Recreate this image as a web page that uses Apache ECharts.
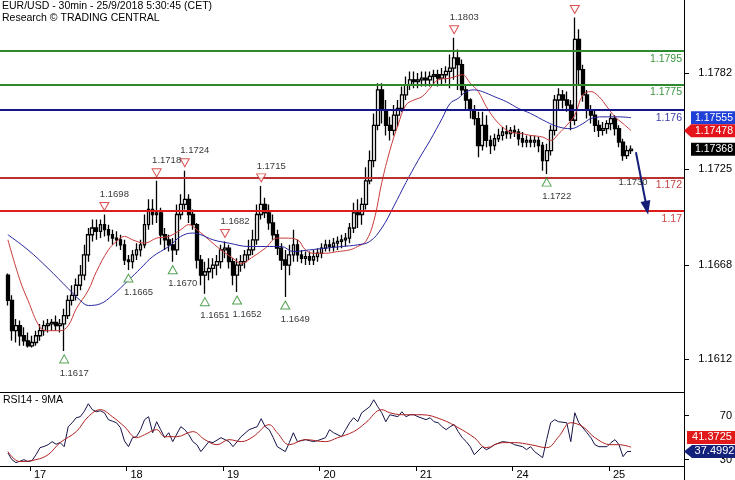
<!DOCTYPE html>
<html><head><meta charset="utf-8">
<script src="https://cdn.jsdelivr.net/npm/echarts@6/dist/echarts.min.js"></script>
<style>html,body{margin:0;padding:0;background:#fff}#c{width:735px;height:480px}</style>
</head><body><div id="c"></div>
<script>
// ---------- DATA ----------
const dayLabels = ['17','18','19','20','21','24','25'];
const dayStartBar = [6,30,54,78,102,126,150];
// hourly bars [open, close, low, high]
const bars = [
[1.1662,1.1647,1.1644,1.1663],[1.1647,1.1629,1.1623,1.1650],[1.1629,1.1632,1.1622,1.1636],[1.1632,1.1626,1.1620,1.1635],[1.1626,1.1623,1.1620,1.1631],
[1.1623,1.1620,1.1619,1.1628],[1.1620,1.1622,1.1619,1.1626],[1.1622,1.1626,1.1620,1.1629],[1.1626,1.1629,1.1623,1.1633],[1.1629,1.1632,1.1626,1.1635],
[1.1632,1.1633,1.1628,1.1636],[1.1633,1.1634,1.1629,1.1636],[1.1634,1.1632,1.1629,1.1638],[1.1632,1.1633,1.1628,1.1636],[1.1633,1.1638,1.1617,1.1642],
[1.1638,1.1647,1.1636,1.1650],[1.1647,1.1650,1.1644,1.1656],[1.1650,1.1656,1.1647,1.1660],[1.1656,1.1662,1.1653,1.1668],[1.1662,1.1674,1.1659,1.1680],
[1.1674,1.1686,1.1670,1.1690],[1.1686,1.1690,1.1682,1.1695],[1.1690,1.1688,1.1683,1.1695],[1.1688,1.1692,1.1684,1.1695],[1.1692,1.1689,1.1685,1.1698],
[1.1689,1.1686,1.1682,1.1692],[1.1686,1.1684,1.1680,1.1689],[1.1684,1.1683,1.1679,1.1688],[1.1683,1.1680,1.1677,1.1686],[1.1680,1.1671,1.1668,1.1683],
[1.1671,1.1670,1.1665,1.1674],[1.1670,1.1674,1.1666,1.1677],[1.1674,1.1677,1.1671,1.1681],[1.1677,1.1680,1.1673,1.1683],[1.1680,1.1692,1.1678,1.1698],
[1.1692,1.1701,1.1689,1.1707],[1.1701,1.1698,1.1692,1.1707],[1.1698,1.1699,1.1693,1.1718],[1.1699,1.1686,1.1680,1.1702],[1.1686,1.1683,1.1677,1.1690],
[1.1683,1.1680,1.1676,1.1686],[1.1680,1.1677,1.1670,1.1684],[1.1677,1.1698,1.1674,1.1704],[1.1698,1.1704,1.1695,1.1710],[1.1704,1.1707,1.1701,1.1724],
[1.1707,1.1698,1.1693,1.1710],[1.1698,1.1692,1.1689,1.1701],[1.1692,1.1671,1.1666,1.1693],[1.1671,1.1662,1.1656,1.1674],[1.1662,1.1664,1.1651,1.1670],
[1.1664,1.1666,1.1659,1.1672],[1.1666,1.1668,1.1660,1.1672],[1.1668,1.1670,1.1662,1.1674],[1.1670,1.1677,1.1666,1.1680],[1.1677,1.1678,1.1672,1.1682],
[1.1678,1.1670,1.1666,1.1680],[1.1670,1.1662,1.1656,1.1672],[1.1662,1.1668,1.1652,1.1672],[1.1668,1.1670,1.1664,1.1674],[1.1670,1.1674,1.1666,1.1677],
[1.1674,1.1677,1.1671,1.1683],[1.1677,1.1683,1.1674,1.1689],[1.1683,1.1698,1.1680,1.1704],[1.1698,1.1704,1.1695,1.1715],[1.1704,1.1699,1.1696,1.1708],
[1.1699,1.1693,1.1689,1.1704],[1.1693,1.1686,1.1683,1.1698],[1.1686,1.1678,1.1674,1.1689],[1.1678,1.1671,1.1665,1.1681],[1.1671,1.1668,1.1649,1.1677],
[1.1668,1.1674,1.1662,1.1680],[1.1674,1.1680,1.1670,1.1689],[1.1680,1.1674,1.1670,1.1683],[1.1674,1.1672,1.1669,1.1677],[1.1672,1.1673,1.1668,1.1676],
[1.1673,1.1671,1.1668,1.1676],[1.1671,1.1673,1.1668,1.1677],[1.1673,1.1675,1.1670,1.1678],[1.1675,1.1678,1.1672,1.1681],[1.1678,1.1680,1.1676,1.1683],
[1.1680,1.1679,1.1676,1.1683],[1.1679,1.1681,1.1676,1.1684],[1.1681,1.1682,1.1677,1.1685],[1.1682,1.1683,1.1678,1.1686],[1.1683,1.1684,1.1679,1.1687],
[1.1684,1.1690,1.1681,1.1693],[1.1690,1.1699,1.1687,1.1705],[1.1699,1.1698,1.1690,1.1707],[1.1698,1.1704,1.1692,1.1708],[1.1704,1.1718,1.1701,1.1726],
[1.1718,1.1730,1.1716,1.1736],[1.1730,1.1751,1.1726,1.1758],[1.1751,1.1772,1.1748,1.1776],[1.1772,1.1760,1.1752,1.1776],[1.1760,1.1751,1.1745,1.1766],
[1.1751,1.1748,1.1742,1.1756],[1.1748,1.1757,1.1745,1.1763],[1.1757,1.1761,1.1750,1.1766],[1.1761,1.1769,1.1759,1.1774],[1.1769,1.1775,1.1766,1.1780],
[1.1775,1.1778,1.1772,1.1783],[1.1778,1.1777,1.1773,1.1783],[1.1777,1.1778,1.1773,1.1782],[1.1778,1.1779,1.1774,1.1783],[1.1779,1.1778,1.1774,1.1783],
[1.1778,1.1780,1.1774,1.1783],[1.1780,1.1781,1.1775,1.1784],[1.1781,1.1779,1.1774,1.1784],[1.1779,1.1781,1.1775,1.1785],[1.1781,1.1783,1.1776,1.1786],
[1.1783,1.1785,1.1773,1.1793],[1.1785,1.1791,1.1778,1.1803],[1.1791,1.1787,1.1772,1.1796],[1.1787,1.1772,1.1769,1.1790],[1.1772,1.1766,1.1760,1.1775],
[1.1766,1.1760,1.1755,1.1767],[1.1760,1.1755,1.1751,1.1763],[1.1755,1.1739,1.1732,1.1759],[1.1739,1.1751,1.1736,1.1759],[1.1751,1.1742,1.1738,1.1757],
[1.1742,1.1739,1.1734,1.1745],[1.1739,1.1743,1.1736,1.1746],[1.1743,1.1745,1.1741,1.1749],[1.1745,1.1747,1.1742,1.1750],[1.1747,1.1746,1.1743,1.1751],
[1.1746,1.1748,1.1743,1.1750],[1.1748,1.1747,1.1744,1.1751],[1.1747,1.1743,1.1739,1.1749],[1.1743,1.1741,1.1738,1.1747],[1.1741,1.1742,1.1738,1.1745],
[1.1742,1.1741,1.1738,1.1745],[1.1741,1.1742,1.1738,1.1745],[1.1742,1.1739,1.1735,1.1744],[1.1739,1.1730,1.1724,1.1741],[1.1730,1.1736,1.1722,1.1740],
[1.1736,1.1748,1.1733,1.1751],[1.1748,1.1766,1.1745,1.1769],[1.1766,1.1769,1.1760,1.1773],[1.1769,1.1766,1.1761,1.1772],[1.1766,1.1763,1.1759,1.1771],
[1.1763,1.1754,1.1748,1.1766],[1.1754,1.1802,1.1751,1.1815],[1.1802,1.1784,1.1775,1.1808],[1.1784,1.1769,1.1765,1.1787],[1.1769,1.1760,1.1755,1.1772],
[1.1760,1.1757,1.1752,1.1763],[1.1757,1.1751,1.1747,1.1760],[1.1751,1.1748,1.1744,1.1754],[1.1748,1.1749,1.1745,1.1753],[1.1749,1.1752,1.1746,1.1754],
[1.1752,1.1755,1.1748,1.1758],[1.1755,1.1749,1.1745,1.1757],[1.1749,1.1741,1.1738,1.1751],[1.1741,1.1733,1.1730,1.1743],[1.1733,1.1736,1.1731,1.1739],
[1.1736,1.17368,1.1734,1.1739]
];
// moving averages: [bar, value]
const maFast = [[0,1.1683],[3,1.1659],[5,1.1647],[8,1.1631],[10,1.1629],[13,1.1629],[15,1.1632],[17,1.1642],[20,1.1653],[22,1.1664],
[25,1.1677],[27,1.1682],[29,1.1685],[31,1.1683],[34,1.1681],[37,1.1684],[40,1.1685],[43,1.1689],[45,1.1692],[47,1.1689],
[50,1.1683],[53,1.1677],[56,1.1672],[58,1.1669],[61,1.1673],[64,1.1678],[67,1.1684],[69,1.1684],[72,1.1683],[74,1.1677],
[76,1.1675],[79,1.1675],[82,1.1676],[85,1.1677],[87,1.1679],[89,1.1682],[91,1.1694],[93,1.1717],[95,1.1736],[97,1.1751],
[99,1.1763],[101,1.1766],[103,1.1768],[105,1.1773],[107,1.1778],[110,1.1779],[113,1.1781],[115,1.1776],[117,1.1771],[119,1.1762],
[121,1.1755],[123,1.1750],[125,1.1747],[128,1.1746],[130,1.1745],[133,1.1744],[135,1.1742],[137,1.1746],[139,1.1751],[141,1.1757],
[143,1.1769],[145,1.1771],[147,1.1768],[149,1.1762],[151,1.1756],[153,1.1752],[155,1.17478]];
const maSlow = [[0,1.1686],[5,1.1677],[10,1.1666],[15,1.1654],[18,1.1647],[20,1.1644],[23,1.1645],[26,1.1650],[30,1.1659],[33,1.1666],
[36,1.1673],[40,1.1679],[43,1.1685],[46,1.1687],[48,1.1686],[51,1.1683],[55,1.1681],[60,1.1679],[64,1.1679],[68,1.1679],
[71,1.1676],[75,1.1677],[79,1.1678],[83,1.1679],[87,1.1680],[90,1.1682],[93,1.1690],[96,1.1703],[99,1.1717],[102,1.1730],
[105,1.1742],[108,1.1755],[110,1.1764],[112,1.1767],[114,1.1771],[116,1.1772],[118,1.1771],[121,1.1768],[124,1.1765],[127,1.1761],
[130,1.1758],[134,1.1753],[137,1.1750],[140,1.1749],[143,1.1752],[145,1.1755],[148,1.1756],[152,1.1756],[155,1.17555]];
const swingHighs = [[24,1.1698],[37,1.1718],[44,1.1724],[54,1.1682],[63,1.1715],[111,1.1803],[141,1.1815]];
const swingLows = [[14,1.1617],[30,1.1665],[41,1.1670],[49,1.1651],[57,1.1652],[69,1.1649],[134,1.1722]];
const pendingLow = [[153,1.1730]];
const levels = [1.1795,1.1775,1.176,1.172,1.17];
const projection = [[156.2,1.1735],[158.9,1.1702]];
const priceTicks = [1.1612,1.1668,1.1725,1.1782];
const rsiTicks = [30,70];
const rsi14 = [[0,36],[1,30],[2,27.3],[3,28.5],[4,30],[5,28.2],[6,29.1],[7,34.5],[8,40.9],[9,42],[10,43.6],[11,46.4],[12,44],[13,45.5],[14,41.8],
[15,60],[16,63.6],[17,68.2],[18,69.1],[19,74],[20,80.9],[21,75.5],[22,73.6],[23,74.5],[24,72.7],[25,66.4],[26,65],[27,63.6],[28,59.1],[29,47],
[30,41.8],[31,50],[32,50.9],[33,57.3],[34,66.4],[35,69.1],[36,54.5],[37,64.5],[38,57.3],[39,50],[40,54.5],[41,46.4],[43,60],[44,57.3],[45,52.7],
[46,46.4],[47,43.6],[48,37.3],[50,46.4],[51,45.5],[53,50],[55,46.4],[56,41.8],[58,50.9],[60,57.3],[62,60],[63,67.3],[64,60],[65,57.3],[66,50],
[67,41.8],[69,37.3],[70,45.5],[71,54.5],[72,46.4],[74,48.2],[76,46.4],[77,47.3],[79,50],[80,57.3],[81,54.5],[83,50.9],[84,57.3],[85,63.6],[86,68.2],
[87,64.5],[88,72.7],[90,78.2],[91,84.5],[92,78.2],[93,72.7],[94,64.5],[95,70.9],[97,69.1],[98,73.6],[99,69.1],[100,70.9],[101,70.9],[102,69.1],[104,66.4],
[105,68.2],[106,64.5],[107,63.6],[108,60],[109,57.3],[110,60],[111,62],[112,55.5],[113,50],[114,46.4],[115,41.8],[116,34.5],[118,41.8],[119,39.1],[120,40.9],
[121,43.6],[123,46.4],[125,45.5],[126,43.6],[128,41.8],[129,39.1],[130,41.8],[131,37.3],[133,31.8],[134,48.2],[135,63.6],[136,66.4],[137,64.5],[139,63.6],[140,46.4],
[141,72.7],[142,63.6],[144,54.5],[145,50],[146,43.6],[147,41.8],[149,41.8],[150,45.5],[151,48.2],[152,43.6],[153,32.7],[154,37.3],[155,37.4992]];
const rsiMA9 = [[0,37.3],[3,28.2],[7,30],[10,34.5],[13,45.5],[17,55.5],[20,69.1],[23,75.5],[26,69.1],[29,60],
[32,50],[34,52.7],[37,57.3],[39,50.9],[42,50.9],[46,55.5],[49,48.2],[52,43.6],[55,48.2],[58,46.4],
[61,50.9],[65,61.8],[67,54.5],[70,43.6],[74,48.2],[79,46.4],[82,50],[86,55.5],[89,63.6],[93,75.5],
[95,72.7],[98,70.9],[103,70.9],[108,66.4],[112,59.1],[116,50],[119,40.9],[123,45.5],[126,45.5],[130,43.6],
[134,40.9],[137,50.9],[140,63.6],[143,60],[146,50],[150,43.6],[152,43.6],[155,41.3725]];

// ---------- STYLE ----------
const FONT = '"Liberation Sans", Arial, sans-serif';
const X_MIN = -1.961, X_MAX = 168.16;
const levelColors = ['#2f8a2f','#2f8a2f','#16168c','#b83030','#dd1c1c'];
const levelTextColors = ['#3c963c','#3c963c','#3b3ba8','#c24040','#d24545'];

const chart = echarts.init(document.getElementById('c'), null, {renderer:'canvas'});
const option = {
  animation:false,
  textStyle:{fontFamily:FONT},
  grid:[{left:0, top:0, width:684, height:392},{left:0, top:392, width:684, height:75}],
  xAxis:[
    {type:'value', gridIndex:0, min:X_MIN, max:X_MAX,
     axisLine:{show:true, onZero:false, lineStyle:{color:'#000', width:1}},
     axisTick:{show:false}, axisLabel:{show:false}, splitLine:{show:false}},
    {type:'value', gridIndex:1, min:X_MIN, max:X_MAX,
     axisLine:{show:true, onZero:false, lineStyle:{color:'#000', width:1}},
     axisTick:{show:true, customValues:dayStartBar.map(b=>b-0.5), length:5, lineStyle:{color:'#000'}},
     axisLabel:{show:true, customValues:dayStartBar.map(b=>b-0.5),
       formatter:v=>dayLabels[dayStartBar.indexOf(Math.round(v+0.5))] || '',
       align:'left', padding:[0,0,0,4], margin:3, color:'#000', fontSize:11},
     splitLine:{show:false}}
  ],
  yAxis:[
    {type:'value', gridIndex:0, position:'right', min:1.15926, max:1.18254,
     axisLine:{show:false, onZero:false},
     axisTick:{show:true, customValues:priceTicks, length:5, lineStyle:{color:'#000'}},
     axisLabel:{show:true, customValues:priceTicks, formatter:v=>v.toFixed(4), align:'right', margin:48, color:'#000', fontSize:11},
     splitLine:{show:false}},
    {type:'value', gridIndex:1, position:'right', min:24.2, max:91.6,
     axisLine:{show:false, onZero:false},
     axisTick:{show:true, customValues:rsiTicks, length:5, lineStyle:{color:'#000'}},
     axisLabel:{show:true, customValues:rsiTicks, formatter:v=>String(v), align:'right', margin:48, color:'#000', fontSize:11},
     splitLine:{show:false}}
  ],
  series:[
    {type:'candlestick', name:'EURUSD', xAxisIndex:0, yAxisIndex:0,
     dimensions:['idx','open','close','lowest','highest'],
     encode:{x:'idx', y:['open','close','lowest','highest']},
     data:bars.map((b,i)=>[i].concat(b)),
     barWidth:3.2,
     itemStyle:{color:'#ffffff', color0:'#000000', borderColor:'#000000', borderColor0:'#000000', borderWidth:1.3},
     markLine:{silent:true, symbol:['none','none'], animation:false, precision:6,
       data:levels.map((v,k)=>({yAxis:v,
         lineStyle:{color:levelColors[k], width:2, type:'solid'},
         label:{show:true, position:'insideEndBottom', formatter:String(v), color:levelTextColors[k], fontSize:10.5, distance:[2,2]}}))}
    },
    {type:'line', name:'MA fast', xAxisIndex:0, yAxisIndex:0, data:maFast, smooth:0.4, showSymbol:false,
     lineStyle:{color:'#c83a3a', width:1}, z:4},
    {type:'line', name:'MA slow', xAxisIndex:0, yAxisIndex:0, data:maSlow, smooth:0.4, showSymbol:false,
     lineStyle:{color:'#2626a0', width:1}, z:4},
    {type:'scatter', name:'high marks', xAxisIndex:0, yAxisIndex:0, data:swingHighs, symbol:'triangle', symbolRotate:180,
     symbolSize:[9,8], symbolOffset:[0,-8], itemStyle:{color:'#ffffff', borderColor:'#d02828', borderWidth:1}, z:6},
    {type:'scatter', name:'high labels', xAxisIndex:0, yAxisIndex:0, data:swingHighs, symbol:'circle', symbolSize:0.1,
     itemStyle:{color:'rgba(0,0,0,0)'},
     label:{show:true, position:'inside', offset:[10,-20], formatter:p=>p.value[1].toFixed(4), color:'#000000', fontSize:9.5}, z:6},
    {type:'scatter', name:'low marks', xAxisIndex:0, yAxisIndex:0, data:swingLows, symbol:'triangle',
     symbolSize:[9,8], symbolOffset:[0,8], itemStyle:{color:'#ffffff', borderColor:'#2a8a2a', borderWidth:1}, z:6},
    {type:'scatter', name:'low labels', xAxisIndex:0, yAxisIndex:0, data:swingLows.concat(pendingLow), symbol:'circle', symbolSize:0.1,
     itemStyle:{color:'rgba(0,0,0,0)'},
     label:{show:true, position:'inside', offset:[10,22], formatter:p=>p.value[1].toFixed(4), color:'#000000', fontSize:9.5}, z:6},
    {type:'line', name:'projection', xAxisIndex:0, yAxisIndex:0, data:projection, showSymbol:false, lineStyle:{opacity:0},
     markLine:{silent:true, animation:false, precision:6, symbol:['none','triangle'], symbolSize:[10,14],
       lineStyle:{color:'#141e78', width:2, type:'solid'}, label:{show:false},
       data:[[{coord:projection[0]},{coord:projection[1]}]]}, z:7},
    {type:'line', name:'RSI14', xAxisIndex:1, yAxisIndex:1, data:rsi14, showSymbol:false,
     lineStyle:{color:'#14144a', width:1}},
    {type:'line', name:'9MA', xAxisIndex:1, yAxisIndex:1, data:rsiMA9, smooth:0.4, showSymbol:false,
     lineStyle:{color:'#b02020', width:1}}
  ]
};
chart.setOption(option);

// ---------- right-hand value tags (positioned through the axes) ----------
function tag(y, text, bg, arrow, left, fs) {
  const h = 13, right = 735, t = y - h/2, b = y + h/2;
  const pts = arrow ? [[684,y],[left,t],[right,t],[right,b],[left,b]] : [[left,t],[right,t],[right,b],[left,b]];
  return [
    {type:'polygon', shape:{points:pts}, style:{fill:bg}, z:100},
    {type:'text', x:(left+right)/2+1, y:y, z:101,
     style:{text:text, fill:'#ffffff', font:fs+'px '+FONT, align:'center', verticalAlign:'middle', textAlign:'center', textVerticalAlign:'middle'}}
  ];
}
const yP = v => chart.convertToPixel({yAxisIndex:0}, v);
const yR = v => chart.convertToPixel({yAxisIndex:1}, v);
const lastClose = bars[bars.length-1][1];
const lastSlow = maSlow[maSlow.length-1][1];
const lastFast = maFast[maFast.length-1][1];
const lastRsi = rsi14[rsi14.length-1][1];
const lastRsiMA = rsiMA9[rsiMA9.length-1][1];
let yRsiMA = yR(lastRsiMA); const yRsi = yR(lastRsi);
if (Math.abs(yRsi - yRsiMA) < 14) yRsiMA = yRsi - 14;

const g = [];
g.push({type:'line', shape:{x1:684.5,y1:0,x2:684.5,y2:480}, style:{stroke:'#000', lineWidth:1}, z:90});
g.push(...tag(yP(lastSlow), lastSlow.toFixed(5), '#1f3fd6', false, 691, 10.5));
g.push(...tag(yP(lastFast), lastFast.toFixed(5), '#e5141a', true, 691, 10.5));
g.push(...tag(yP(lastClose), lastClose.toFixed(5), '#000000', false, 691, 10.5));
g.push(...tag(yRsiMA, lastRsiMA.toFixed(4), '#e01a1a', false, 687, 11));
g.push(...tag(yRsi, lastRsi.toFixed(4), '#14217a', true, 692, 11));
g.push({type:'text', x:2, y:1, z:110, style:{text:'EUR/USD - 30min - 25/9/2018 5:30:45 (CET)', fill:'#000', font:'10.5px '+FONT}});
g.push({type:'text', x:2, y:13, z:110, style:{text:'Research \u00a9 TRADING CENTRAL', fill:'#000', font:'10.5px '+FONT}});
g.push({type:'text', x:3, y:395, z:110, style:{text:'RSI14 - 9MA', fill:'#000', font:'10.5px '+FONT}});
chart.setOption({graphic:g});
</script></body></html>
